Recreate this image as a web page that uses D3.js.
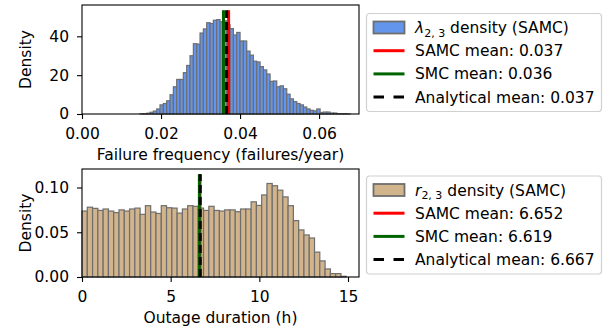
<!DOCTYPE html>
<html>
<head>
<meta charset="utf-8">
<script src="https://cdn.jsdelivr.net/npm/d3@7"></script>
<style>
  body { margin: 0; background: #fff; }
  svg { font-family: "DejaVu Sans", sans-serif; }
</style>
</head>
<body>
<svg id="chart" width="611" height="335"></svg>
<script>
// failure frequency histogram (lambda_2,3), density per bin
const lamBinStart = 0.01468;
const lamBinWidth = 0.000844;
const lamDensity = [0.1, 0.2, 0.4, 0.9, 1.5, 2.6, 4.7, 5.4, 6.8, 9.9, 14, 17.8, 17.8, 21.3, 25, 30,
  36.2, 36, 41.7, 43.8, 47, 46.6, 48.3, 48.6, 47.5, 48, 46, 44, 40.7, 42, 37.6, 37.6, 32.4, 30.3,
  27.2, 26.8, 24.4, 22.7, 20.6, 16.8, 17, 14, 14.5, 13, 10.2, 7.8, 6.4, 5.4, 4.7, 3.6, 2.6, 1.9,
  1.6, 2.6, 0.8, 1.0, 1.0, 0.5, 0.5, 0.2, 0.2, 0.2, 0.1];
const lamMeans = [0.0371, 0.0358, 0.0366];   // SAMC, SMC, analytical
const lamLabels = ["SAMC mean: 0.037", "SMC mean: 0.036", "Analytical mean: 0.037"];
const lamXTicks = [0, 0.02, 0.04, 0.06];
const lamYTicks = [0, 20, 40];

// outage duration histogram (r_2,3)
const durBinStart = 0;
const durBinWidth = 0.298;
const durDensity = [0.0737, 0.078, 0.0767, 0.0744, 0.076, 0.0737, 0.072, 0.075, 0.0737, 0.076,
  0.077, 0.070, 0.0797, 0.0726, 0.071, 0.0797, 0.0774, 0.077, 0.0714, 0.076,
  0.0797, 0.079, 0.077, 0.0744, 0.079, 0.0744, 0.0737, 0.075, 0.075, 0.073,
  0.076, 0.076, 0.084, 0.080, 0.0917, 0.1045, 0.102, 0.097, 0.0895, 0.0797,
  0.063, 0.0526, 0.047, 0.0436, 0.0278, 0.018, 0.009, 0.0038, 0.0038, 0.0008];
const durMeans = [6.652, 6.619, 6.667];
const durLabels = ["SAMC mean: 6.652", "SMC mean: 6.619", "Analytical mean: 6.667"];
const durXTicks = [0, 5, 10, 15];
const durYTicks = [0, 0.05, 0.10];

const lineColors = ["#ff0000", "#006400", "#000000"];
const fontSize = 15.5;
const svg = d3.select("#chart");

function drawPanel(p) {
  const x = d3.scaleLinear().domain(p.xDomain).range([82, 359]);
  const ymaxLine = d3.max(p.density) * 1.1;
  const y = d3.scaleLinear().domain([0, ymaxLine * 1.05]).range([p.bottom, p.top]);
  const g = svg.append("g");

  g.selectAll("rect.bar")
    .data(p.density)
    .enter().append("rect")
    .attr("class", "bar")
    .attr("x", (d, i) => x(p.binStart + i * p.binWidth))
    .attr("width", x(p.binWidth) - x(0))
    .attr("y", d => y(d))
    .attr("height", d => y(0) - y(d))
    .attr("fill", p.fill)
    .attr("stroke", "#6e6e6e")
    .attr("stroke-width", 1.2);

  // mean lines
  g.selectAll("line.mean")
    .data(p.means)
    .enter().append("line")
    .attr("class", "mean")
    .attr("x1", d => x(d)).attr("x2", d => x(d))
    .attr("y1", y(0)).attr("y2", y(ymaxLine))
    .attr("stroke", (d, i) => lineColors[i])
    .attr("stroke-width", 3)
    .attr("stroke-dasharray", (d, i) => i === 2 ? "8,4" : null);

  const xAxis = d3.axisBottom(x).tickValues(p.xTicks).tickFormat(p.xFormat).tickSize(5).tickPadding(9);
  const yAxis = d3.axisLeft(y).tickValues(p.yTicks).tickFormat(p.yFormat).tickSize(5).tickPadding(8);
  g.append("g").attr("transform", `translate(0,${p.bottom})`).call(xAxis);
  g.append("g").attr("transform", "translate(82,0)").call(yAxis);
  g.selectAll(".tick text").attr("font-size", fontSize).attr("fill", "#000").attr("font-family", "DejaVu Sans");
  g.selectAll(".tick line").attr("stroke", "#000").attr("stroke-width", 1.1);
  g.selectAll(".domain").remove();

  g.append("rect")
    .attr("x", 82).attr("y", p.top)
    .attr("width", 359 - 82).attr("height", p.bottom - p.top)
    .attr("fill", "none").attr("stroke", "#000").attr("stroke-width", 1.1);

  g.append("text")
    .attr("transform", `translate(26,${(p.top + p.bottom) / 2}) rotate(-90)`)
    .attr("text-anchor", "middle").attr("dominant-baseline", "central")
    .attr("font-size", fontSize).text("Density");

  g.append("text")
    .attr("x", 220.5).attr("y", p.bottom + 46)
    .attr("text-anchor", "middle").attr("font-size", fontSize)
    .text(p.xLabel);

  // legend
  const lg = svg.append("g").attr("transform", `translate(366.5,${p.legendTop})`);
  lg.append("rect")
    .attr("width", 235).attr("height", 98)
    .attr("rx", 3).attr("fill", "#fff")
    .attr("stroke", "#d0d0d0").attr("stroke-width", 1.2);
  const rowY = i => 14 + i * 23.2;
  lg.append("rect")
    .attr("x", 7).attr("y", rowY(0) - 6).attr("width", 31).attr("height", 12)
    .attr("fill", p.fill).attr("stroke", "#6e6e6e").attr("stroke-width", 1.8);
  const t0 = lg.append("text").attr("x", 48.5).attr("y", rowY(0) + 5.5).attr("font-size", fontSize);
  t0.append("tspan").attr("font-style", "italic").text(p.symbol);
  t0.append("tspan").attr("font-size", 11).attr("dy", 3.5).text("2, 3");
  t0.append("tspan").attr("dy", -3.5).text(" density (SAMC)");

  p.labels.forEach((lab, i) => {
    const yy = rowY(i + 1);
    lg.append("line")
      .attr("x1", 7).attr("x2", 38).attr("y1", yy).attr("y2", yy)
      .attr("stroke", lineColors[i]).attr("stroke-width", 3)
      .attr("stroke-dasharray", i === 2 ? "10.5,9.5" : null);
    lg.append("text")
      .attr("x", 48.5).attr("y", yy + 5.5).attr("font-size", fontSize).text(lab);
  });
}

drawPanel({
  top: 5, bottom: 114, legendTop: 13.5,
  xDomain: [0, 0.0701], density: lamDensity, binStart: lamBinStart, binWidth: lamBinWidth,
  means: lamMeans, labels: lamLabels, xTicks: lamXTicks, yTicks: lamYTicks,
  xFormat: d3.format(".2f"), yFormat: d3.format("d"),
  fill: "#6495ed", symbol: "λ", xLabel: "Failure frequency (failures/year)"
});

drawPanel({
  top: 169, bottom: 277, legendTop: 176,
  xDomain: [0, 15.62], density: durDensity, binStart: durBinStart, binWidth: durBinWidth,
  means: durMeans, labels: durLabels, xTicks: durXTicks, yTicks: durYTicks,
  xFormat: d3.format("d"), yFormat: d3.format(".2f"),
  fill: "#d2b48c", symbol: "r", xLabel: "Outage duration (h)"
});
</script>
</body>
</html>
